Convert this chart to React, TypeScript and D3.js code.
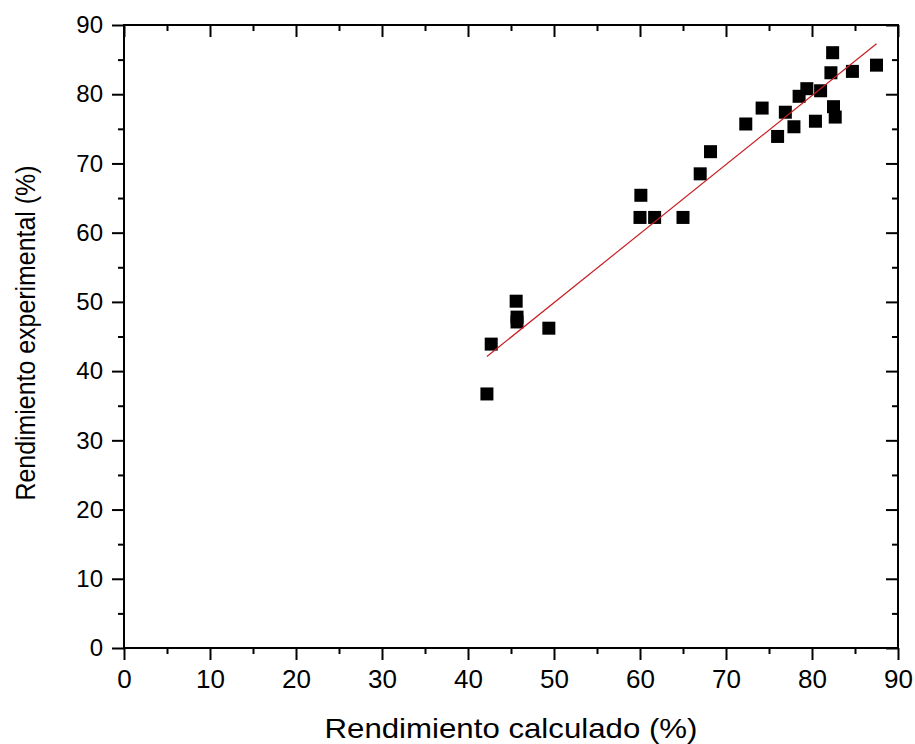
import React, { useRef, useEffect } from 'react';
import * as d3 from 'd3';

// values
const calculado = [42.2, 42.7, 45.6, 45.7, 45.7, 49.4, 60.1, 60.0, 61.7, 65.0, 67.0, 68.2,
  72.3, 74.2, 76.0, 76.9, 77.9, 78.5, 79.4, 80.4, 81.0, 82.2, 82.4, 82.5, 82.7, 84.7, 87.5];
const experimental = [36.7, 43.9, 50.1, 47.8, 47.1, 46.2, 65.4, 62.2, 62.2, 62.2, 68.5, 71.7,
  75.7, 78.0, 73.9, 77.4, 75.3, 79.7, 80.8, 76.1, 80.5, 83.1, 86.0, 78.2, 76.7, 83.3, 84.2];
// fitted line end points
const fitX = [42.2, 87.5];
const fitY = [42.1, 87.3];

const majorTicks = [0, 10, 20, 30, 40, 50, 60, 70, 80, 90];
const minorTicks = [5, 15, 25, 35, 45, 55, 65, 75, 85];

const App = () => {
  const ref = useRef<HTMLDivElement>(null);

  useEffect(() => {
    const width = 915;
    const height = 744;
    const left = 124, right = 898, top = 25, bottom = 648;
    const font = 'Liberation Sans, Arial, sans-serif';

    const x = d3.scaleLinear([0, 90], [left, right]);
    const y = d3.scaleLinear([0, 90], [bottom, top]);

    const svg = d3.create('svg')
      .attr('width', width)
      .attr('height', height)
      .attr('viewBox', [0, 0, width, height])
      .style('position', 'absolute')
      .style('left', '0px')
      .style('top', '0px')
      .style('background', '#fff');

    const axisStyle = (size: number) => (g: any) => {
      g.select('.domain').remove();
      g.selectAll('line').attr('stroke', '#000').attr('stroke-width', 2);
      g.selectAll('text').attr('font-family', font).attr('font-size', size).attr('fill', '#000');
    };

    // bottom
    svg.append('g')
      .attr('transform', `translate(0,${bottom})`)
      .call(d3.axisBottom(x).tickValues(majorTicks).tickSize(12).tickPadding(10))
      .call(axisStyle(26));
    svg.append('g')
      .attr('transform', `translate(0,${bottom})`)
      .call(d3.axisBottom(x).tickValues(minorTicks).tickSize(6).tickFormat(() => ''))
      .call(axisStyle(26));
    // left
    svg.append('g')
      .attr('transform', `translate(${left},0)`)
      .call(d3.axisLeft(y).tickValues(majorTicks).tickSize(12).tickPadding(9))
      .call(axisStyle(24));
    svg.append('g')
      .attr('transform', `translate(${left},0)`)
      .call(d3.axisLeft(y).tickValues(minorTicks).tickSize(6).tickFormat(() => ''))
      .call(axisStyle(24));
    // top (inward)
    svg.append('g')
      .attr('transform', `translate(0,${top})`)
      .call(d3.axisBottom(x).tickValues(majorTicks).tickSize(12).tickFormat(() => ''))
      .call(axisStyle(24));
    svg.append('g')
      .attr('transform', `translate(0,${top})`)
      .call(d3.axisBottom(x).tickValues(minorTicks).tickSize(6).tickFormat(() => ''))
      .call(axisStyle(24));
    // right (inward)
    svg.append('g')
      .attr('transform', `translate(${right},0)`)
      .call(d3.axisLeft(y).tickValues(majorTicks).tickSize(12).tickFormat(() => ''))
      .call(axisStyle(24));
    svg.append('g')
      .attr('transform', `translate(${right},0)`)
      .call(d3.axisLeft(y).tickValues(minorTicks).tickSize(6).tickFormat(() => ''))
      .call(axisStyle(24));

    // frame
    svg.append('rect')
      .attr('x', left).attr('y', top)
      .attr('width', right - left).attr('height', bottom - top)
      .attr('fill', 'none').attr('stroke', '#000').attr('stroke-width', 2);

    // points
    const s = 13;
    svg.append('g')
      .selectAll('rect')
      .data(calculado)
      .join('rect')
      .attr('x', (d) => x(d) - s / 2)
      .attr('y', (d, i) => y(experimental[i]) - s / 2)
      .attr('width', s)
      .attr('height', s)
      .attr('fill', '#000');

    // fit line
    const line = d3.line<number>()
      .x((d) => x(d))
      .y((d, i) => y(fitY[i]));
    svg.append('path')
      .attr('d', line(fitX))
      .attr('fill', 'none')
      .attr('stroke', '#c81e24')
      .attr('stroke-width', 1.2);

    // axis titles
    svg.append('text')
      .attr('x', (left + right) / 2)
      .attr('y', 738)
      .attr('text-anchor', 'middle')
      .attr('font-family', font)
      .attr('font-size', 28)
      .attr('textLength', 373)
      .attr('lengthAdjust', 'spacingAndGlyphs')
      .text('Rendimiento calculado (%)');
    svg.append('text')
      .attr('transform', `translate(35,333) rotate(-90)`)
      .attr('text-anchor', 'middle')
      .attr('font-family', font)
      .attr('font-size', 27)
      .attr('textLength', 335)
      .attr('lengthAdjust', 'spacingAndGlyphs')
      .text('Rendimiento experimental (%)');

    ref.current!.appendChild(svg.node()!);
    return () => {
      if (ref.current) ref.current.innerHTML = '';
    };
  }, []);

  return <div ref={ref}></div>;
};

export default App;
